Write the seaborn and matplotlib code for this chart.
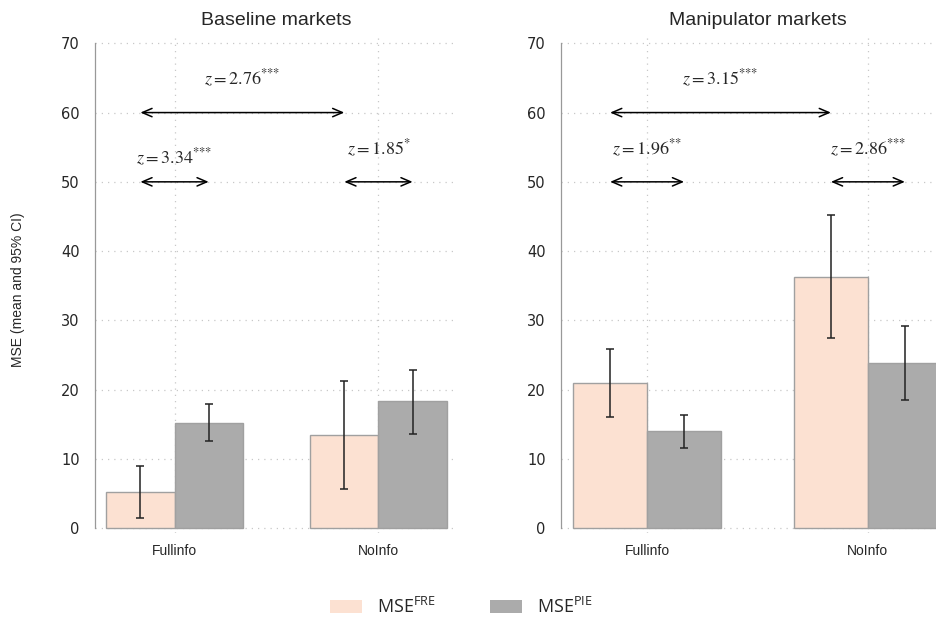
import matplotlib
matplotlib.use("Agg")
import numpy as np
import pandas as pd
import matplotlib.pyplot as plt
from matplotlib.patches import Patch
import seaborn as sns

# categories
titles = ["Baseline markets", "Manipulator markets"]
info = ["Fullinfo", "NoInfo"]
measures = ["FRE", "PIE"]

# MSE means and 95% CI, order: Fullinfo FRE, Fullinfo PIE, NoInfo FRE, NoInfo PIE
base_mean = [5.2, 15.25, 13.5, 18.3]
base_lo = [1.4, 12.55, 5.6, 13.65]
base_hi = [9.0, 17.9, 21.3, 22.8]
manip_mean = [20.9, 14.0, 36.3, 23.9]
manip_lo = [16.0, 11.6, 27.4, 18.5]
manip_hi = [25.8, 16.4, 45.2, 29.2]

# z tests: FRE vs PIE (Fullinfo), FRE vs PIE (NoInfo), FRE Fullinfo vs FRE NoInfo
base_z = ["3.34", "1.85", "2.76"]
base_stars = ["***", "*", "***"]
base_label_y = [53.6, 54.9, 65.0]
manip_z = ["1.96", "2.86", "3.15"]
manip_stars = ["**", "***", "***"]
manip_label_y = [54.9, 54.9, 65.0]
arrow_y = [50, 50, 60]

colors = {"FRE": "#fce1d2", "PIE": "#ababab"}

sns.set_style("white")
plt.rcParams["font.family"] = ["Liberation Sans", "DejaVu Sans"]


def make_df(mean, lo, hi):
    rows = []
    k = 0
    for c in info:
        for m in measures:
            rows.append({"info": c, "measure": m, "mse": mean[k], "lo": lo[k], "hi": hi[k]})
            k += 1
    return pd.DataFrame(rows)


def draw_panel(ax, df, title, zs, stars, label_y):
    sns.barplot(data=df, x="info", y="mse", hue="measure", order=info,
                hue_order=measures, palette=colors, saturation=1, width=0.67,
                gap=0, errorbar=None, edgecolor="#a0a0a0", linewidth=1.0,
                legend=False, ax=ax, zorder=2)
    lookup = df.set_index(["info", "measure"])

    # bar centres, from the patches seaborn drew
    centers = {}
    for m, cont in zip(measures, ax.containers):
        for c, bar in zip(info, cont):
            x = bar.get_x() + bar.get_width() / 2
            centers[(c, m)] = x
            row = lookup.loc[(c, m)]
            ax.errorbar(x, row["mse"],
                        yerr=[[row["mse"] - row["lo"]], [row["hi"] - row["mse"]]],
                        fmt="none", ecolor="#222222", elinewidth=1.1,
                        capsize=3, capthick=1.1, zorder=3)

    pairs = [(centers[("Fullinfo", "FRE")], centers[("Fullinfo", "PIE")]),
             (centers[("NoInfo", "FRE")], centers[("NoInfo", "PIE")]),
             (centers[("Fullinfo", "FRE")], centers[("NoInfo", "FRE")])]
    for (x0, x1), y, z, s, ly in zip(pairs, arrow_y, zs, stars, label_y):
        ax.annotate("", xy=(x1, y), xytext=(x0, y),
                    arrowprops=dict(arrowstyle="<->,head_length=0.7,head_width=0.3",
                                    lw=1.1, color="black", shrinkA=0, shrinkB=0,
                                    mutation_scale=10), zorder=4)
        ax.text((x0 + x1) / 2, ly, rf"$z = {z}^{{\text{{{s}}}}}$", ha="center",
                va="center", fontsize=13, math_fontfamily="stix", zorder=4)

    ax.set_xlim(-0.39, 1.39)
    ax.set_ylim(-0.7, 71.2)
    ax.set_yticks(range(0, 71, 10))
    ax.grid(True, color="#c8c8c8", linestyle=(0, (1, 4)), linewidth=0.9, zorder=0)
    ax.set_axisbelow(True)
    for side in ["top", "right", "bottom"]:
        ax.spines[side].set_visible(False)
    ax.spines["left"].set_color("#999999")
    ax.spines["left"].set_linewidth(0.9)
    ax.spines["left"].set_bounds(0, 70)
    ax.tick_params(axis="y", length=5, width=0.9, color="#999999", pad=6,
                   labelsize=10.5, labelfontfamily="DejaVu Sans")
    ax.tick_params(axis="x", length=0, pad=8, labelsize=10)
    ax.set_xlabel("")
    ax.set_ylabel("")
    ax.set_title(title, fontsize=14, pad=7)


fig = plt.figure(figsize=(9.37, 6.21), dpi=100)
ax1 = fig.add_axes([95 / 937, 88 / 621, 363 / 937, 498 / 621])
ax2 = fig.add_axes([561 / 937, 88 / 621, 393 / 937, 498 / 621])

draw_panel(ax1, make_df(base_mean, base_lo, base_hi), titles[0],
           base_z, base_stars, base_label_y)
draw_panel(ax2, make_df(manip_mean, manip_lo, manip_hi), titles[1],
           manip_z, manip_stars, manip_label_y)

fig.text(18 / 937, 1 - 290 / 621, "MSE (mean and 95% CI)", rotation=90,
         ha="center", va="center", fontsize=10)

handles = [Patch(facecolor=colors[m], edgecolor="none") for m in measures]
labels = [rf"MSE$^{{\mathregular{{{m}}}}}$" for m in measures]
fig.legend(handles, labels, loc="center", bbox_to_anchor=(0.492, 0.023),
           ncol=2, frameon=False, handlelength=1.8, handleheight=0.75,
           handletextpad=0.8, columnspacing=3.0,
           prop={"family": "Open Sans", "size": 13})

fig.savefig("out.png", dpi=100)
